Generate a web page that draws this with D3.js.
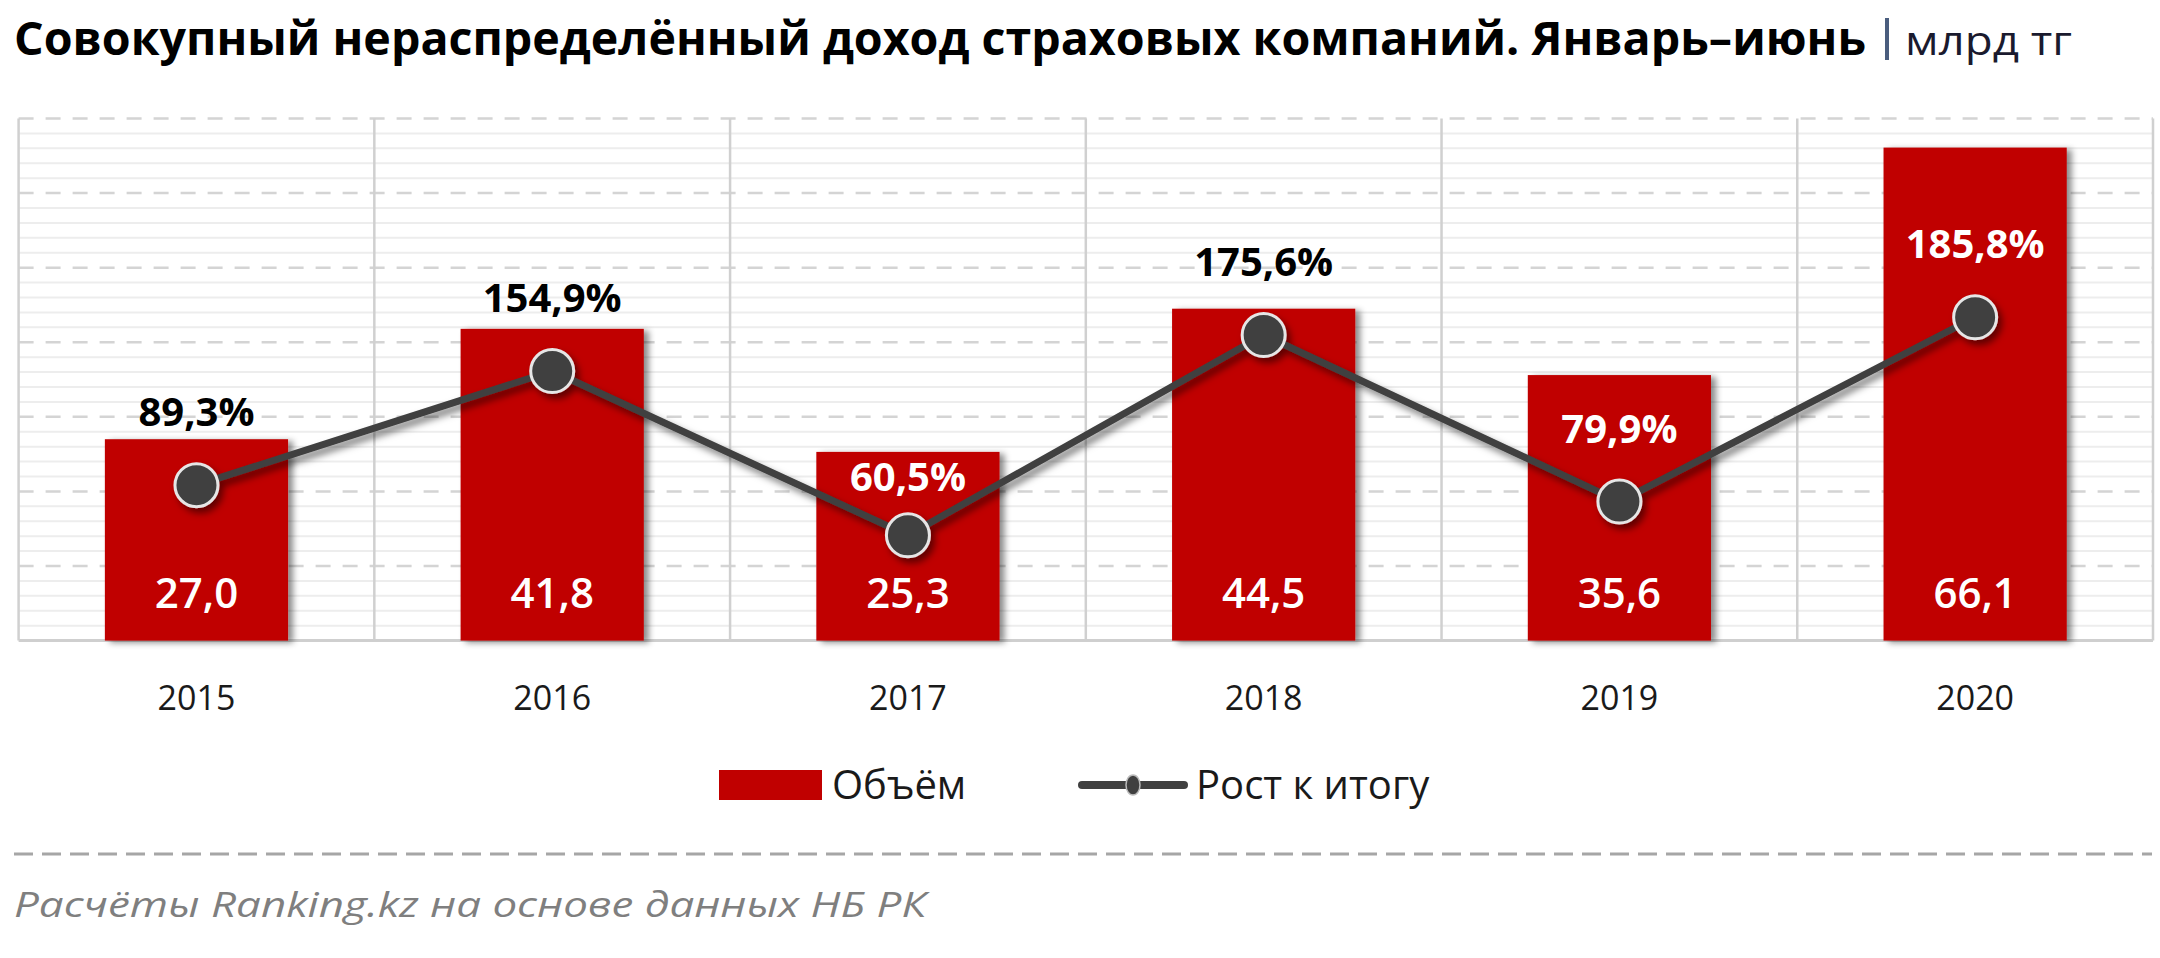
<!DOCTYPE html>
<html>
<head>
<meta charset="utf-8">
<script src="https://cdn.jsdelivr.net/npm/d3@7"></script>
<style>
  html, body { margin: 0; padding: 0; background: #fff; }
  svg { display: block; font-family: "Open Sans", "Noto Sans", sans-serif; }
</style>
</head>
<body>
<svg class="chart_svg"></svg>
<script>
// data
var years = ["2015", "2016", "2017", "2018", "2019", "2020"];
var volume = [27.0, 41.8, 25.3, 44.5, 35.6, 66.1];          // млрд тг
var growth = [89.3, 154.9, 60.5, 175.6, 79.9, 185.8];       // %
var volumeTicks = [0, 10, 20, 30, 40, 50, 60, 70];
var minorStep = 2;

var W = 2160, H = 958;
var plot = { left: 18.6, right: 2153, top: 118.5, bottom: 640.6 };

var fmt = function (v, d) { return v.toFixed(d).replace(".", ","); };

var svg = d3.select(".chart_svg").attr("width", W).attr("height", H);

var defs = svg.append("defs");
defs.append("filter").attr("id", "barShadow")
  .attr("x", "-10%").attr("y", "-10%").attr("width", "130%").attr("height", "130%")
  .append("feDropShadow")
  .attr("dx", 5).attr("dy", 2).attr("stdDeviation", 3)
  .attr("flood-color", "#000").attr("flood-opacity", 0.45);
defs.append("filter").attr("id", "lineShadow")
  .attr("x", "-10%").attr("y", "-20%").attr("width", "130%").attr("height", "150%")
  .append("feDropShadow")
  .attr("dx", 4).attr("dy", 5).attr("stdDeviation", 3.5)
  .attr("flood-color", "#000").attr("flood-opacity", 0.5);

// scales
var xCell = d3.scaleBand().domain(years).range([plot.left, plot.right]).padding(0);
var x = d3.scaleBand().domain(years).range([plot.left, plot.right])
  .paddingInner(0.485).paddingOuter(0.2425);
var y = d3.scaleLinear().domain([0, 70]).range([plot.bottom, plot.top]);
var y2 = d3.scaleLinear().domain([0, 300]).range([plot.bottom, plot.top]);

// gridlines
var grid = svg.append("g");
var minor = d3.range(0, 70, minorStep).filter(function (v) { return v % 10 !== 0; });
grid.selectAll(".minor").data(minor).join("line")
  .attr("class", "minor")
  .attr("x1", plot.left).attr("x2", plot.right)
  .attr("y1", function (d) { return y(d); }).attr("y2", function (d) { return y(d); })
  .attr("stroke", "#ededed").attr("stroke-width", 2);
grid.selectAll(".major").data(volumeTicks.slice(1)).join("line")
  .attr("class", "major")
  .attr("x1", plot.left).attr("x2", plot.right)
  .attr("y1", function (d) { return y(d); }).attr("y2", function (d) { return y(d); })
  .attr("stroke", "#d4d4d4").attr("stroke-width", 2.5)
  .attr("stroke-dasharray", "15,12");
// category separators and borders
var seps = years.map(function (d) { return xCell(d); }).concat([plot.right]);
grid.selectAll(".sep").data(seps).join("line")
  .attr("class", "sep")
  .attr("x1", function (d) { return d; }).attr("x2", function (d) { return d; })
  .attr("y1", plot.top).attr("y2", plot.bottom)
  .attr("stroke", "#d0d0d0").attr("stroke-width", 2.5);
grid.append("line")
  .attr("x1", plot.left).attr("x2", plot.right)
  .attr("y1", y(0)).attr("y2", y(0))
  .attr("stroke", "#cfcfcf").attr("stroke-width", 3);

// bars
svg.append("g").selectAll("rect").data(volume).join("rect")
  .attr("x", function (d, i) { return x(years[i]); })
  .attr("y", function (d) { return y(d); })
  .attr("width", x.bandwidth())
  .attr("height", function (d) { return y(0) - y(d); })
  .attr("fill", "#c00000")
  .attr("filter", "url(#barShadow)");

// line
var cx = function (i) { return x(years[i]) + x.bandwidth() / 2; };
var line = d3.line()
  .x(function (d, i) { return cx(i); })
  .y(function (d) { return y2(d); });
var lg = svg.append("g").attr("filter", "url(#lineShadow)");
lg.append("path").datum(growth)
  .attr("d", line)
  .attr("fill", "none")
  .attr("stroke", "#404040")
  .attr("stroke-width", 7)
  .attr("stroke-linejoin", "round");
lg.selectAll("circle").data(growth).join("circle")
  .attr("cx", function (d, i) { return cx(i); })
  .attr("cy", function (d) { return y2(d); })
  .attr("r", 21.5)
  .attr("fill", "#404040")
  .attr("stroke", "#e6e6e6")
  .attr("stroke-width", 3);

// value labels inside bars
svg.append("g").selectAll("text").data(volume).join("text")
  .attr("x", function (d, i) { return cx(i); })
  .attr("y", y(0) - 33)
  .attr("text-anchor", "middle")
  .style("font-size", "42px")
  .style("font-weight", "600")
  .attr("fill", "#fff")
  .text(function (d) { return fmt(d, 1); });

// growth labels above points; a label that would cut the bar top is moved inside the bar
var labelOffset = 73, labelHalf = 15;
var labelY = function (d, i) {
  var c = y2(d) - labelOffset, top = y(volume[i]);
  if (c - labelHalf < top && c + labelHalf > top) c = top + labelHalf + 10;
  return c;
};
svg.append("g").selectAll("text").data(growth).join("text")
  .attr("x", function (d, i) { return cx(i); })
  .attr("y", function (d, i) { return labelY(d, i) + 14; })
  .attr("text-anchor", "middle")
  .style("font-size", "40px")
  .style("font-weight", "bold")
  .attr("fill", function (d, i) {
    return labelY(d, i) > y(volume[i]) ? "#fff" : "#000";
  })
  .text(function (d) { return fmt(d, 1) + "%"; });

// x axis labels
svg.append("g").selectAll("text").data(years).join("text")
  .attr("x", function (d) { return x(d) + x.bandwidth() / 2; })
  .attr("y", 710)
  .attr("text-anchor", "middle")
  .style("font-size", "34px")
  .attr("fill", "#1a1a1a")
  .text(function (d) { return d; });

// legend
var leg = svg.append("g");
leg.append("rect").attr("x", 719).attr("y", 770).attr("width", 103).attr("height", 30)
  .attr("fill", "#c00000");
leg.append("text").attr("x", 832).attr("y", 799)
  .style("font-size", "40px").attr("fill", "#1a1a1a").text("Объём");
leg.append("line").attr("x1", 1082).attr("x2", 1184).attr("y1", 785).attr("y2", 785)
  .attr("stroke", "#404040").attr("stroke-width", 8).attr("stroke-linecap", "round");
leg.append("ellipse").attr("cx", 1133).attr("cy", 785).attr("rx", 7).attr("ry", 10)
  .attr("fill", "#404040").attr("stroke", "#bbb").attr("stroke-width", 1.5);
leg.append("text").attr("x", 1196).attr("y", 799)
  .style("font-size", "40px").attr("fill", "#1a1a1a").text("Рост к итогу");

// title
svg.append("text").attr("x", 14).attr("y", 55)
  .attr("textLength", 1852).attr("lengthAdjust", "spacingAndGlyphs")
  .style("font-size", "46px").style("font-weight", "bold").attr("fill", "#000")
  .text("Совокупный нераспределённый доход страховых компаний. Январь–июнь");
svg.append("rect").attr("x", 1885).attr("y", 18).attr("width", 4).attr("height", 42)
  .attr("fill", "#4a5d7e");
svg.append("text").attr("x", 1905).attr("y", 55)
  .attr("textLength", 167).attr("lengthAdjust", "spacingAndGlyphs")
  .style("font-size", "40px").attr("fill", "#1a1a2e")
  .text("млрд тг");

// separator and source
svg.append("line").attr("x1", 14).attr("x2", 2152).attr("y1", 854).attr("y2", 854)
  .attr("stroke", "#a6a6a6").attr("stroke-width", 3).attr("stroke-dasharray", "19,9");
svg.append("text").attr("x", 14).attr("y", 917)
  .attr("textLength", 912).attr("lengthAdjust", "spacingAndGlyphs")
  .style("font-size", "35px").style("font-style", "italic").attr("fill", "#7f7f7f")
  .text("Расчёты Ranking.kz на основе данных  НБ РК");
</script>
</body>
</html>
